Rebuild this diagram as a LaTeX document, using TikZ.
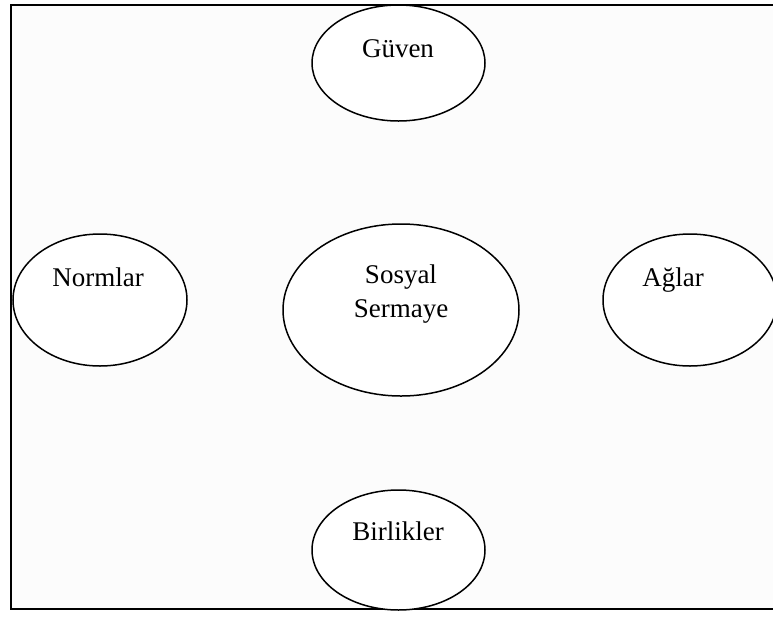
\documentclass[tikz,border=0pt]{standalone}
\usepackage{fontspec}
\setmainfont{Liberation Serif}
\usetikzlibrary{shapes.geometric}
\tikzset{
  oval/.style={draw, ellipse, line width=0.75pt, fill=white, inner sep=0pt},
  lbl/.style={anchor=base, font=\fontsize{13.5}{17}\selectfont, inner sep=0pt, align=center}
}
\begin{document}
\begin{tikzpicture}[x=0.5pt,y=-0.5pt]
\useasboundingbox (0,0) rectangle (773,617);
\fill[white] (0,0) rectangle (773,617);
\draw[line width=1pt, fill={rgb,255:red,252;green,252;blue,252}] (11,5) rectangle (776,609);
% ovals
\node[oval, minimum width=86.5pt, minimum height=58pt] (guven) at (398.5,63) {};
\node[oval, minimum width=118pt, minimum height=86pt] (sosyal) at (401,310) {};
\node[oval, minimum width=87pt, minimum height=66pt] (normlar) at (100,300) {};
\node[oval, minimum width=87pt, minimum height=66pt] (aglar) at (690,300) {};
\node[oval, minimum width=86.5pt, minimum height=60pt] (birlikler) at (398.5,550) {};
% labels
\node[lbl] (tguven) at (398,57) {Güven};
\node[lbl] (tsosyal) at (401,283) {Sosyal};
\node[lbl] (tsermaye) at (401,317) {Sermaye};
\node[lbl] (tnormlar) at (98,286) {Normlar};
\node[lbl] (taglar) at (673,286) {Ağlar};
\node[lbl] (tbirlikler) at (398,540) {Birlikler};
\end{tikzpicture}
\end{document}
